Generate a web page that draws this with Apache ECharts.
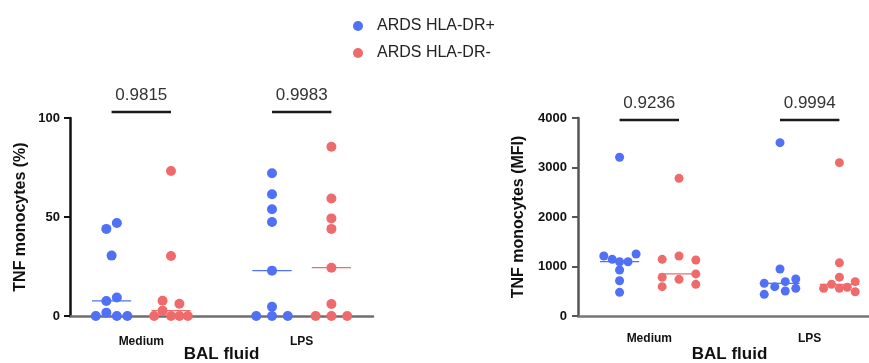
<!DOCTYPE html>
<html>
<head>
<meta charset="utf-8">
<script src="https://cdn.jsdelivr.net/npm/echarts@6/dist/echarts.min.js"></script>
<style>
html,body{margin:0;padding:0;background:#ffffff;}
#chart{width:869px;height:363px;}
</style>
</head>
<body>
<div id="chart"></div>
<script>
// ---------------- data ----------------
const categories = ['Medium', 'LPS'];
const seriesNames = ['ARDS HLA-DR+', 'ARDS HLA-DR-'];
const xAxisName = 'BAL fluid';

// Panel 1: TNF monocytes (%)
const pctYName = 'TNF monocytes (%)';
const pctTicks = [0, 50, 100];
const pctMediumPos = [47, 44, 30.5, 9.3, 7.6, 1.7, 0, 0, 0];
const pctMediumNeg = [73.2, 30.3, 7.7, 6.2, 2.7, 0, 0, 0, 0];
const pctLpsPos    = [72.1, 61.5, 53.9, 47.5, 22.9, 4.7, 0, 0, 0];
const pctLpsNeg    = [85.5, 59.3, 49.3, 44, 24.4, 6.1, 0, 0, 0];
// horizontal swarm spread of each dot (in dot widths)
const pctMediumPosSpread = [0.5, -0.5, 0, 0.5, -0.5, -0.5, -1.5, 0.5, 1.5];
const pctMediumNegSpread = [0, 0, -0.8, 0.8, -0.8, -1.6, 0, 0.8, 1.6];
const pctLpsPosSpread    = [0, 0, 0, 0, 0, 0, -1.5, 0, 1.5];
const pctLpsNegSpread    = [0, 0, 0, 0, 0, 0, -1.5, 0, 1.5];
const pctPValues = ['0.9815', '0.9983'];
const pctBracketLevel = 103;

// Panel 2: TNF monocytes (MFI)
const mfiYName = 'TNF monocytes (MFI)';
const mfiTicks = [0, 1000, 2000, 3000, 4000];
const mfiMediumPos = [3206, 1253, 1212, 1145, 1097, 1097, 929, 713, 478];
const mfiMediumNeg = [2781, 1212, 1145, 1131, 850, 782, 741, 640, 593];
const mfiLpsPos    = [3502, 949, 747, 694, 660, 593, 559, 505, 438];
const mfiLpsNeg    = [3098, 1074, 785, 694, 640, 580, 559, 559, 491];
const mfiMediumPosSpread = [0, 1.57, -1.5, -0.7, 0, 0.8, 0, 0, 0];
const mfiMediumNegSpread = [0, 0, -1.6, 1.6, 1.6, -1.6, 0, 1.6, -1.6];
const mfiLpsPosSpread    = [0, 0, 1.5, 0.5, -1.5, -0.5, 1.5, 0.5, -1.5];
const mfiLpsNegSpread    = [0, 0, 0, 1.5, -0.75, 0.75, 0, -1.5, 1.5];
const mfiPValues = ['0.9236', '0.9994'];
const mfiBracketLevel = 3960;

// ---------------- layout / style ----------------
const FONT = 'Liberation Sans, Arial, Helvetica, sans-serif';
const colors = ['#5070f5', '#ef6b6b'];
const catPos = [1.2, 3.9];      // category centres on the hidden value x axis
const pairHalf = 0.5;           // HLA-DR+ left, HLA-DR- right of the centre
const dotStep = 0.177;          // one dot width in x-axis units
const medianHalf = 0.33;

function median(arr) {
  const s = arr.slice().sort((a, b) => a - b);
  const m = Math.floor(s.length / 2);
  return s.length % 2 ? s[m] : (s[m - 1] + s[m]) / 2;
}

const panels = [
  {
    yName: pctYName, ticks: pctTicks,
    values: [[pctMediumPos, pctMediumNeg], [pctLpsPos, pctLpsNeg]],
    spreads: [[pctMediumPosSpread, pctMediumNegSpread], [pctLpsPosSpread, pctLpsNegSpread]],
    pValues: pctPValues, level: pctBracketLevel,
    grid: { left: 70, top: 118, width: 303, height: 198 },
    yLine: '#111111', xLine: '#6f6f6f', dot: 10,
    yNameGap: 41, yLabelMargin: 10, xLabelPad: 12
  },
  {
    yName: mfiYName, ticks: mfiTicks,
    values: [[mfiMediumPos, mfiMediumNeg], [mfiLpsPos, mfiLpsNeg]],
    spreads: [[mfiMediumPosSpread, mfiMediumNegSpread], [mfiLpsPosSpread, mfiLpsNegSpread]],
    pValues: mfiPValues, level: mfiBracketLevel,
    grid: { left: 578, top: 118, width: 303, height: 198 },
    yLine: '#555555', xLine: '#767676', dot: 9,
    yNameGap: 51, yLabelMargin: 11, xLabelPad: 9
  }
];

const grids = [], xAxes = [], yAxes = [], series = [];

panels.forEach((p, i) => {
  grids.push(Object.assign({ containLabel: false, outerBoundsMode: 'none' }, p.grid));
  xAxes.push({
    type: 'value', gridIndex: i, min: 0, max: 5.1,
    axisLine: { show: true, onZero: false, lineStyle: { color: p.xLine, width: 2.5 } },
    axisTick: { show: false },
    splitLine: { show: false },
    axisLabel: {
      customValues: catPos,
      formatter: v => {
        const k = catPos.findIndex(c => Math.abs(c - v) < 1e-6);
        return k >= 0 ? categories[k] : '';
      },
      fontFamily: FONT, fontWeight: 'bold', fontSize: 12, color: '#111',
      margin: 8, padding: [p.xLabelPad, 0, 0, 0]
    },
    name: xAxisName, nameLocation: 'middle', nameGap: 30, nameMoveOverlap: false,
    nameTextStyle: { fontFamily: FONT, fontWeight: 'bold', fontSize: 17, color: '#111' }
  });
  const tk = p.ticks;
  yAxes.push({
    type: 'value', gridIndex: i, min: tk[0], max: tk[tk.length - 1], interval: tk[1] - tk[0],
    axisLine: { show: true, onZero: false, lineStyle: { color: p.yLine, width: 2.5 } },
    axisTick: { show: true, length: 6, lineStyle: { color: p.yLine, width: 2 } },
    splitLine: { show: false },
    axisLabel: { fontFamily: FONT, fontWeight: 'bold', fontSize: 13, color: '#111', margin: p.yLabelMargin,
                 formatter: v => String(v) },
    name: p.yName, nameLocation: 'middle', nameGap: p.yNameGap, nameRotate: 90, nameMoveOverlap: false,
    nameTextStyle: { fontFamily: FONT, fontWeight: 'bold', fontSize: 16, color: '#111' }
  });

  // scatter dots
  for (let g = 0; g < 2; g++) {
    const data = [];
    for (let c = 0; c < categories.length; c++) {
      const vals = p.values[c][g], spr = p.spreads[c][g];
      const base = catPos[c] + (g === 0 ? -pairHalf : pairHalf);
      vals.forEach((v, k) => data.push([base + spr[k] * dotStep, v]));
    }
    series.push({
      type: 'scatter', name: seriesNames[g], xAxisIndex: i, yAxisIndex: i,
      symbol: 'circle', symbolSize: p.dot, clip: false, z: 3,
      itemStyle: { color: colors[g], opacity: 1 },
      data: data
    });
  }

  // median lines
  const medData = [];
  for (let c = 0; c < categories.length; c++) {
    for (let g = 0; g < 2; g++) {
      medData.push([catPos[c] + (g === 0 ? -pairHalf : pairHalf), median(p.values[c][g]), g]);
    }
  }
  series.push({
    type: 'custom', xAxisIndex: i, yAxisIndex: i, silent: true, z: 4, clip: false,
    encode: { x: 0, y: 1 },
    data: medData,
    renderItem: (params, api) => {
      const x = api.value(0), y = api.value(1), g = api.value(2);
      const a = api.coord([x - medianHalf, y]), b = api.coord([x + medianHalf, y]);
      return {
        type: 'line',
        shape: { x1: a[0], y1: a[1], x2: b[0], y2: b[1] },
        style: { stroke: colors[g], lineWidth: 1.2 }
      };
    }
  });

  // significance brackets
  const brData = categories.map((_, c) => [catPos[c] - pairHalf, catPos[c] + pairHalf, p.level, c]);
  const pv = p.pValues;
  series.push({
    type: 'custom', xAxisIndex: i, yAxisIndex: i, silent: true, z: 5, clip: false,
    encode: { x: [0, 1], y: 2 },
    data: brData,
    renderItem: (params, api) => {
      const a = api.coord([api.value(0), api.value(2)]);
      const b = api.coord([api.value(1), api.value(2)]);
      return {
        type: 'group',
        children: [
          { type: 'line', shape: { x1: a[0], y1: a[1], x2: b[0], y2: b[1] },
            style: { stroke: '#1a1a1a', lineWidth: 2.5 } },
          { type: 'text', x: (a[0] + b[0]) / 2, y: a[1] - 17,
            style: { text: pv[api.value(3)], align: 'center', verticalAlign: 'middle',
                     fontFamily: FONT, fontSize: 17, fill: '#333' } }
        ]
      };
    }
  });
});

const chart = echarts.init(document.getElementById('chart'), null, { renderer: 'canvas' });
chart.setOption({
  animation: false,
  backgroundColor: '#ffffff',
  legend: {
    data: seriesNames, orient: 'vertical', left: 348, top: 13,
    itemWidth: 28, itemHeight: 10, itemGap: 11, icon: 'circle',
    textStyle: { fontFamily: FONT, fontSize: 16, color: '#222' },
    selectedMode: false
  },
  grid: grids,
  xAxis: xAxes,
  yAxis: yAxes,
  series: series
});
</script>
</body>
</html>
